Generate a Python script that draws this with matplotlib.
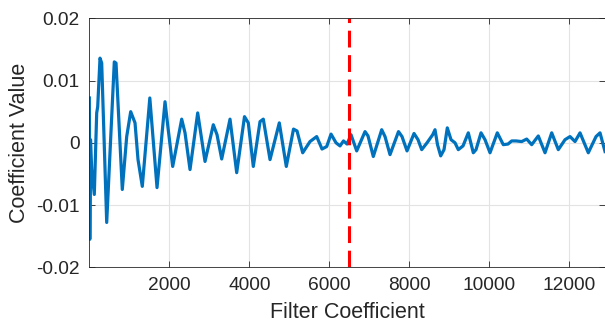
import numpy as np
import matplotlib
matplotlib.use('Agg')
import matplotlib.pyplot as plt

# coefficient index / value (peaks and troughs)
coef_idx = [1, 12, 30, 60, 125, 185, 210, 268, 310, 435, 625, 668, 825, 935, 1035,
            1143, 1218, 1325, 1513, 1693, 1893, 1968, 2085, 2310, 2393, 2518, 2710,
            2893, 3100, 3193, 3310, 3518, 3685, 3880, 3975, 4100, 4268, 4350, 4518,
            4750, 4925, 5105, 5193, 5335, 5518, 5685, 5818, 5935, 6043, 6168, 6268,
            6355, 6443, 6543, 6685, 6893, 6968, 7100, 7310, 7393, 7518, 7730, 7818,
            7943, 8118, 8218, 8310, 8443, 8585, 8643, 8705, 8785, 8868, 8950, 9043,
            9143, 9225, 9343, 9475, 9600, 9668, 9793, 9893, 10018, 10200, 10350,
            10468, 10560, 10668, 10810, 10935, 11060, 11225, 11393, 11560, 11725,
            11893, 12018, 12143, 12268, 12475, 12668, 12768, 12893]
coef_val = [0.0072, -0.0155, 0.0005, -0.0043, -0.0083, 0.0048, 0.0058, 0.0136,
            0.0128, -0.0128, 0.0130, 0.0128, -0.0075, 0.0010, 0.0050, 0.0032,
            -0.0027, -0.0070, 0.0072, -0.0072, 0.0066, 0.0024, -0.0038, 0.0038,
            0.0016, -0.0043, 0.0048, -0.0030, 0.0029, 0.0013, -0.0026, 0.0038,
            -0.0048, 0.0042, 0.0032, -0.0038, 0.0034, 0.0038, -0.0027, 0.0032,
            -0.0038, 0.0022, 0.0019, -0.0016, 0.0002, 0.0010, -0.0010, -0.0006,
            0.0014, 0.0000, -0.0005, 0.0003, -0.0002, 0.0013, -0.0013, 0.0018,
            0.0011, -0.0022, 0.0021, 0.0010, -0.0019, 0.0018, 0.0010, -0.0013,
            0.0015, 0.0005, -0.0011, 0.0000, 0.0013, 0.0021, -0.0003, -0.0021,
            -0.0011, 0.0024, 0.0005, 0.0000, -0.0011, -0.0005, 0.0016, -0.0016,
            -0.0011, 0.0016, 0.0005, -0.0016, 0.0016, -0.0003, -0.0002, 0.0003,
            0.0003, 0.0002, 0.0006, -0.0003, 0.0011, -0.0016, 0.0016, -0.0011,
            0.0005, 0.0010, 0.0002, 0.0016, -0.0016, 0.0010, 0.0016, -0.0014]
split_at = 6500
x_ticks = [2000, 4000, 6000, 8000, 10000, 12000]
y_ticks = [-0.02, -0.01, 0, 0.01, 0.02]
y_tick_labels = ['-0.02', '-0.01', '0', '0.01', '0.02']

plt.rcParams['font.family'] = ['Liberation Sans', 'DejaVu Sans']
ink = '#262626'

fig = plt.figure(figsize=(6.05, 3.26), dpi=100)
ax = fig.add_axes([89.3 / 605, (326 - 267.3) / 326, 516 / 605, 249 / 326])

ax.plot(coef_idx, coef_val, color='#0072BD', lw=2.3, solid_joinstyle='round')
ax.axvline(split_at, color='#ff0000', lw=2.2, dashes=(5.5, 2.5))

ax.set_xlim(0, 12900)
ax.set_ylim(-0.02, 0.02)
ax.set_xticks(x_ticks)
ax.set_xticklabels([str(t) for t in x_ticks])
ax.set_yticks(y_ticks)
ax.set_yticklabels(y_tick_labels)

ax.grid(True, color='#e3e3e3', lw=0.8)
ax.set_axisbelow(True)
ax.tick_params(direction='in', length=4, width=0.6, colors=ink, labelsize=13.8,
               top=True, right=True, pad=7)
for s in ax.spines.values():
    s.set_color(ink)
    s.set_linewidth(0.6)

ax.set_xlabel('Filter Coefficient', fontsize=15.5, color=ink, labelpad=6)
ax.set_ylabel('Coefficient Value', fontsize=15.5, color=ink, labelpad=4)

fig.savefig('out.png', dpi=100)
